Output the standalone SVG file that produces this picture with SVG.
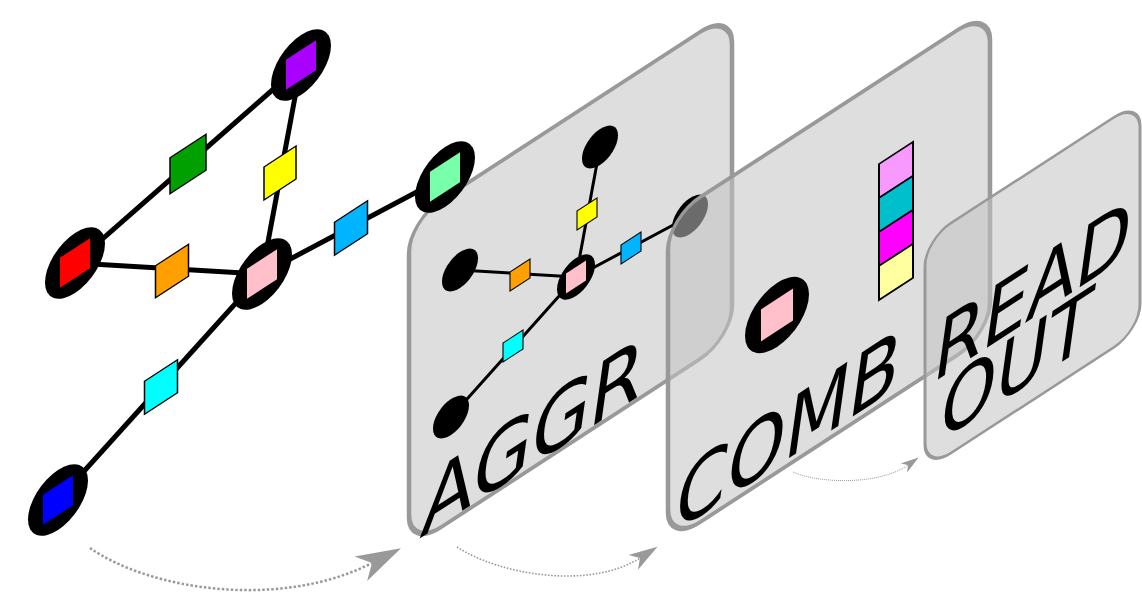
<svg xmlns="http://www.w3.org/2000/svg" width="1142" height="599" viewBox="0 0 1142 599">
  <defs>
    <style>
      .panel { fill: #c2c2c2; fill-opacity: 0.55; stroke: #999999; stroke-width: 4.5; }
      .panel-sm { fill: #c2c2c2; fill-opacity: 0.55; stroke: #999999; stroke-width: 3; }
      .ring { fill: #000000; }
      .edge { stroke: #000000; stroke-width: 5; fill: none; }
      .edge-sm { stroke: #000000; stroke-width: 3; fill: none; }
      .feat { stroke: #000000; stroke-width: 1.5; }
      .feat-sm { stroke: #000000; stroke-width: 1.1; }
      .vec { stroke: #000000; stroke-width: 2; }
      .flow { fill: none; stroke: #999999; marker-end: url(#head); }
      .label { font-family: "DejaVu Sans", "Liberation Sans", sans-serif; fill: #000000; }
    </style>
    <marker id="head" viewBox="-6 -6 20 12" refX="0" refY="0" markerWidth="20" markerHeight="12" markerUnits="strokeWidth" orient="auto" overflow="visible">
      <path d="M13,0 L-5,-5.5 L0,0 L-5,5.5 Z" fill="#999999"/>
    </marker>
  </defs>

  <!-- AGGR panel -->
  <g id="panel-aggr">
    <rect class="panel" x="0" y="0" width="323" height="327" rx="32" ry="32" transform="translate(409 221) skewY(-33)"/>
    <g id="aggr-connectors">
      <line class="edge-sm" x1="576" y1="277" x2="600" y2="147"/>
      <line class="edge-sm" x1="576" y1="277" x2="460" y2="270"/>
      <line class="edge-sm" x1="576" y1="277" x2="690" y2="216"/>
      <line class="edge-sm" x1="576" y1="277" x2="451" y2="417"/>
    </g>
    <g id="aggr-n-top" transform="translate(600 147) skewY(-33)"><circle class="ring" r="18"/></g>
    <g id="aggr-n-left" transform="translate(460 270) skewY(-33)"><circle class="ring" r="18"/></g>
    <g id="aggr-n-right" transform="translate(690 216) skewY(-33)"><circle class="ring" r="18"/></g>
    <g id="aggr-n-bottom" transform="translate(451 417) skewY(-33)"><circle class="ring" r="18"/></g>
    <g id="aggr-n-center" transform="translate(576 277) skewY(-33)">
      <circle class="ring" r="19"/>
      <rect x="-10" y="-10" width="20" height="20" fill="#ffc0cb"/>
    </g>
    <g id="aggr-e-top" transform="translate(587 214) skewY(-33)"><rect class="feat-sm" x="-10" y="-9.5" width="20" height="19" fill="#ffff00"/></g>
    <g id="aggr-e-left" transform="translate(520 275) skewY(-33)"><rect class="feat-sm" x="-10" y="-9.5" width="20" height="19" fill="#ffa000"/></g>
    <g id="aggr-e-right" transform="translate(631 248) skewY(-33)"><rect class="feat-sm" x="-10" y="-9.5" width="20" height="19" fill="#00b4ff"/></g>
    <g id="aggr-e-bottom" transform="translate(513 346) skewY(-33)"><rect class="feat-sm" x="-10" y="-9.5" width="20" height="19" fill="#00ffff"/></g>
    <text class="label" font-size="88" transform="matrix(0.86 -0.559 -0.14 1 419 539)">AGGR</text>
  </g>

  <!-- input graph -->
  <g id="connectors">
    <line class="edge" x1="301" y1="65" x2="75" y2="263"/>
    <line class="edge" x1="301" y1="65" x2="262" y2="274"/>
    <line class="edge" x1="75" y1="263" x2="262" y2="274"/>
    <line class="edge" x1="262" y1="274" x2="445" y2="177"/>
    <line class="edge" x1="262" y1="274" x2="58" y2="500"/>
    <path class="flow" stroke-width="2.5" stroke-dasharray="2.5 2" d="M90,548 C150,590 280,610 372,563"/>
    <path class="flow" stroke-width="1.6" stroke-dasharray="1.6 1.6" d="M457,547 C500,575 590,590 640,558"/>
    <path class="flow" stroke-width="1" stroke-dasharray="1 1" d="M793,472 C820,484 880,485 908,465"/>
  </g>

  <g id="e-green" transform="translate(188 164) skewY(-33)"><rect class="feat" x="-18" y="-18" width="36" height="36" fill="#00a000"/></g>
  <g id="e-yellow" transform="translate(280 173) skewY(-33)"><rect class="feat" x="-16" y="-16.5" width="32" height="33" fill="#ffff00"/></g>
  <g id="e-orange" transform="translate(172 271) skewY(-33)"><rect class="feat" x="-16.5" y="-16" width="33" height="32" fill="#ffa000"/></g>
  <g id="e-blue" transform="translate(351 228) skewY(-33)"><rect class="feat" x="-16.5" y="-16.5" width="33" height="33" fill="#00b4ff"/></g>
  <g id="e-cyan" transform="translate(161 387) skewY(-33)"><rect class="feat" x="-16.5" y="-16.5" width="33" height="33" fill="#00ffff"/></g>

  <g id="n-purple" transform="translate(301 65) skewY(-33)">
    <circle class="ring" r="30"/>
    <rect x="-15" y="-15" width="30" height="30" fill="#aa00ff"/>
  </g>
  <g id="n-red" transform="translate(75 263) skewY(-33)">
    <circle class="ring" r="30"/>
    <rect x="-15" y="-15" width="30" height="30" fill="#ff0000"/>
  </g>
  <g id="n-pink" transform="translate(262 274) skewY(-33)">
    <circle class="ring" r="30"/>
    <rect x="-15" y="-15" width="30" height="30" fill="#ffc0cb"/>
  </g>
  <g id="n-mint" transform="translate(445 177) skewY(-33)">
    <circle class="ring" r="30"/>
    <rect x="-15" y="-15" width="30" height="30" fill="#77ffaa"/>
  </g>
  <g id="n-blue" transform="translate(58 500) skewY(-33)">
    <circle class="ring" r="30"/>
    <rect x="-15" y="-15" width="30" height="30" fill="#0000ff"/>
  </g>

  <!-- COMB panel -->
  <g id="panel-comb">
    <rect class="panel" x="0" y="0" width="322" height="325" rx="32" ry="32" transform="translate(668 218) skewY(-33)"/>
    <g id="comb-node" transform="translate(777 315) skewY(-33)">
      <circle class="ring" r="32"/>
      <rect x="-16" y="-16" width="32" height="32" fill="#ffc0cb"/>
    </g>
    <g id="comb-vector" transform="translate(879 164) skewY(-33)">
      <rect class="vec" x="0" y="0" width="34" height="34" fill="#f799ff"/>
      <rect class="vec" x="0" y="34" width="34" height="34" fill="#00bfcc"/>
      <rect class="vec" x="0" y="68" width="34" height="34" fill="#ff00ff"/>
      <rect class="vec" x="0" y="102" width="34" height="34" fill="#ffffa0"/>
    </g>
    <text class="label" font-size="88" transform="matrix(0.84 -0.546 -0.14 1 672 534)">COMB</text>
  </g>

  <!-- READOUT panel -->
  <g id="panel-readout">
    <rect class="panel-sm" x="0" y="0" width="215" height="230" rx="26" ry="26" transform="translate(925 240) skewY(-33)"/>
    <text class="label" font-size="86" transform="matrix(0.82 -0.533 -0.14 1 931 384)">READ</text>
    <text class="label" font-size="86" transform="matrix(0.82 -0.533 -0.14 1 937 443)">OUT</text>
  </g>
</svg>
